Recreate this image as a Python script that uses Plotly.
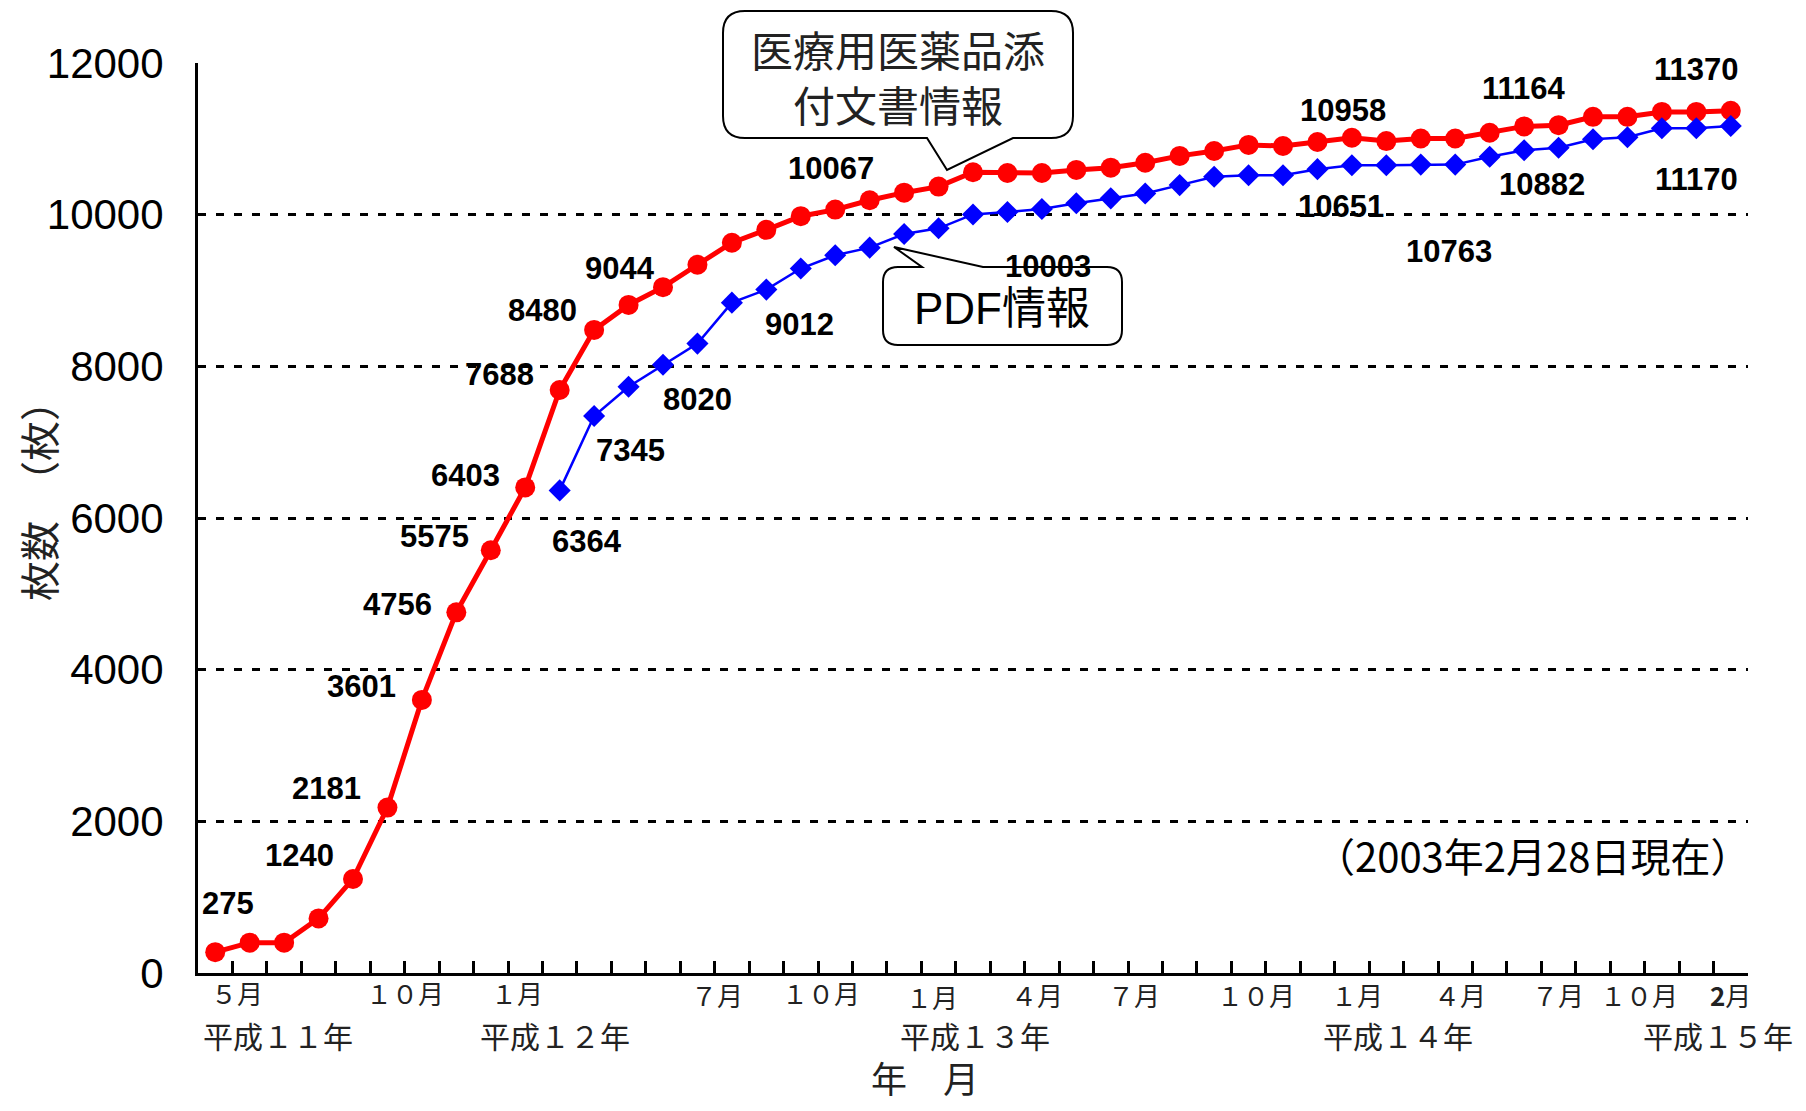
import plotly.graph_objects as go

# ---------------- data ----------------
# 45 monthly categories (平成11年5月 ... 平成15年2月)
categories = list(range(1, 46))

red_values = [275, 400, 400, 720, 1240, 2181, 3601, 4756, 5575, 6403,
              7688, 8480, 8810, 9044, 9340, 9630, 9800, 9980, 10067, 10190,
              10290, 10370, 10560, 10550, 10550, 10590, 10620, 10685, 10775, 10840,
              10920, 10905, 10958, 11015, 10970, 11005, 11005, 11080, 11164, 11180,
              11290, 11290, 11355, 11355, 11370]

blue_values = [None] * 10 + [
    6364, 7345, 7730, 8020, 8300, 8840, 9012, 9290, 9465, 9565,
    9745, 9820, 10003, 10035, 10075, 10150, 10215, 10280, 10390, 10500,
    10520, 10520, 10600, 10651, 10651, 10660, 10660, 10763, 10850, 10882,
    10995, 11020, 11140, 11140, 11170]

red_series_name = "医療用医薬品添<br>付文書情報"
blue_series_name = "PDF情報"

# labelled points (category number) and label offsets in px (right, up)
red_label_idx = [1, 5, 6, 7, 8, 9, 10, 11, 12, 14, 19, 33, 39, 45]
red_label_shift = [(13, 49), (-54, 23), (-61, 19), (-60, 13), (-59, 8), (-56, 14), (-60, 12),
                   (-60, 15), (-52, 19), (-43, 19), (-4, 41), (26, 32), (0, 38), (-34, 41)]
blue_label_idx = [11, 12, 14, 17, 23, 34, 38, 40, 45]
blue_label_shift = [(27, -51), (36, -34), (34, -35), (33, -35), (75, -52), (-11, -41),
                    (-41, -95), (-17, -37), (-34, -54)]

# x-axis month / year labels (category positions)
month_text = ["５月", "１０月", "１月", "７月", "１０月", "１月", "４月", "７月", "１０月",
              "１月", "４月", "７月", "１０月", "<b>2</b>月"]
month_pos = [1.64, 6.51, 9.76, 15.57, 18.58, 21.8, 24.85, 27.66, 31.22,
             34.16, 37.14, 39.98, 42.34, 44.98]
month_drop = [0, 0, 0, 2, 0, 4, 2, 2, 2, 2, 2, 2, 2, 2]
year_text = ["平成１１年", "平成１２年", "平成１３年", "平成１４年", "平成１５年"]
year_pos = [2.81, 10.86, 23.05, 35.35, 44.64]

y_ticks = [0, 2000, 4000, 6000, 8000, 10000, 12000]

# ---------------- layout geometry (page pixels) ----------------
OFF = 8                      # default body margin of the html page
PAGE_W, PAGE_H = 1806, 1111
W, H = PAGE_W - 2 * OFF, PAGE_H - 2 * OFF
P_L, P_R, P_T, P_B = 198, 1748, 63, 973     # plot area on the page
ML, MR, MT, MB = P_L - OFF, W - (P_R - OFF), P_T - OFF, H - (P_B - OFF)
PW, PH = P_R - P_L, P_B - P_T


def px(xf):
    return (xf - P_L) / PW


def py(yf):
    return (P_B - yf) / PH


CJK = "Noto Sans CJK JP"
LAT = "Liberation Sans"

fig = go.Figure()
fig.add_trace(go.Scatter(
    x=categories, y=red_values, mode="lines+markers", name=red_series_name,
    line=dict(color="#FF0000", width=5),
    marker=dict(symbol="circle", size=20, color="#FF0000"),
    cliponaxis=False, showlegend=False))
fig.add_trace(go.Scatter(
    x=categories, y=blue_values, mode="lines+markers", name=blue_series_name,
    line=dict(color="#0000FF", width=2.5),
    marker=dict(symbol="diamond", size=17, color="#0000FF"),
    cliponaxis=False, showlegend=False, connectgaps=False))

C = dict(xanchor="center", yanchor="middle", showarrow=False)
ann = []
for idx, (dx, dy) in zip(red_label_idx, red_label_shift):
    ann.append(dict(x=idx, y=red_values[idx - 1], xref="x", yref="y", text=str(red_values[idx - 1]),
                    xshift=dx, yshift=dy, **C,
                    font=dict(family=LAT, size=31, color="black", weight="bold")))
for idx, (dx, dy) in zip(blue_label_idx, blue_label_shift):
    ann.append(dict(x=idx, y=blue_values[idx - 1], xref="x", yref="y", text=str(blue_values[idx - 1]),
                    xshift=dx, yshift=dy, **C,
                    font=dict(family=LAT, size=31, color="black", weight="bold")))

for t, p, d in zip(month_text, month_pos, month_drop):
    ann.append(dict(x=p, y=py(993 + d), xref="x", yref="paper", text=t, **C,
                    font=dict(family=CJK, size=26, color="#222222")))
for t, p in zip(year_text, year_pos):
    ann.append(dict(x=p, y=py(1035), xref="x", yref="paper", text=t, **C,
                    font=dict(family=CJK, size=30, color="#222222")))

# axis titles
ann.append(dict(x=px(925), y=py(1077), xref="paper", yref="paper", text="年　月", **C,
                font=dict(family=CJK, size=36, color="#222222")))
ann.append(dict(x=px(38), y=py(491), xref="paper", yref="paper", text="枚数　（枚）", **C,
                textangle=-90, font=dict(family=CJK, size=40, color="#222222")))
# date note
ann.append(dict(x=px(1532), y=py(855), xref="paper", yref="paper", text="（2003年2月28日現在）", **C,
                font=dict(family=CJK, size=40, color="black")))
# callout texts
ann.append(dict(x=px(898), y=py(76), xref="paper", yref="paper", text=red_series_name, **C,
                font=dict(family=CJK, size=42, color="#222222")))
ann.append(dict(x=px(1002), y=py(308), xref="paper", yref="paper", text=blue_series_name, **C,
                font=dict(family=LAT + ", " + CJK, size=44, color="black")))


def callout_path(x0, y0, x1, y1, r, side, ta, tb, tip):
    P = lambda a, b: f"{px(a):.5f},{py(b):.5f}"
    s = f"M {P(x0 + r, y0)} "
    if side == "top":
        s += f"L {P(ta, y0)} L {P(*tip)} L {P(tb, y0)} "
    s += f"L {P(x1 - r, y0)} Q {P(x1, y0)} {P(x1, y0 + r)} "
    s += f"L {P(x1, y1 - r)} Q {P(x1, y1)} {P(x1 - r, y1)} "
    if side == "bottom":
        s += f"L {P(tb, y1)} L {P(*tip)} L {P(ta, y1)} "
    s += f"L {P(x0 + r, y1)} Q {P(x0, y1)} {P(x0, y1 - r)} "
    s += f"L {P(x0, y0 + r)} Q {P(x0, y0)} {P(x0 + r, y0)} Z"
    return s


shapes = [
    dict(type="path", xref="paper", yref="paper",
         path=callout_path(723, 11, 1073, 138, 22, "bottom", 927, 1013, (947, 170)),
         line=dict(color="black", width=2), fillcolor="rgba(0,0,0,0)"),
    dict(type="path", xref="paper", yref="paper",
         path=callout_path(883, 267, 1122, 345, 15, "top", 922, 983, (894, 247)),
         line=dict(color="black", width=2), fillcolor="rgba(0,0,0,0)"),
]

fig.update_layout(
    width=W, height=H,
    margin=dict(l=ML, r=MR, t=MT, b=MB, autoexpand=False),
    paper_bgcolor="white", plot_bgcolor="white",
    font=dict(family=CJK, color="black"),
    annotations=ann, shapes=shapes,
    xaxis=dict(range=[0.5, 45.5], tickmode="linear", tick0=0.5, dtick=1,
               ticks="inside", ticklen=12, tickwidth=2.5, tickcolor="black",
               showticklabels=False, showgrid=False, zeroline=False,
               showline=True, linecolor="black", linewidth=3),
    yaxis=dict(range=[0, 12000], tickmode="array", tickvals=y_ticks,
               ticktext=[str(v) for v in y_ticks], ticks="",
               tickfont=dict(family=LAT, size=42, color="black"), ticklabelstandoff=23,
               showgrid=True, gridcolor="black", gridwidth=2.5, griddash="8px,10px",
               zeroline=False, showline=True, linecolor="black", linewidth=3),
)

fig.write_html("out.html")
